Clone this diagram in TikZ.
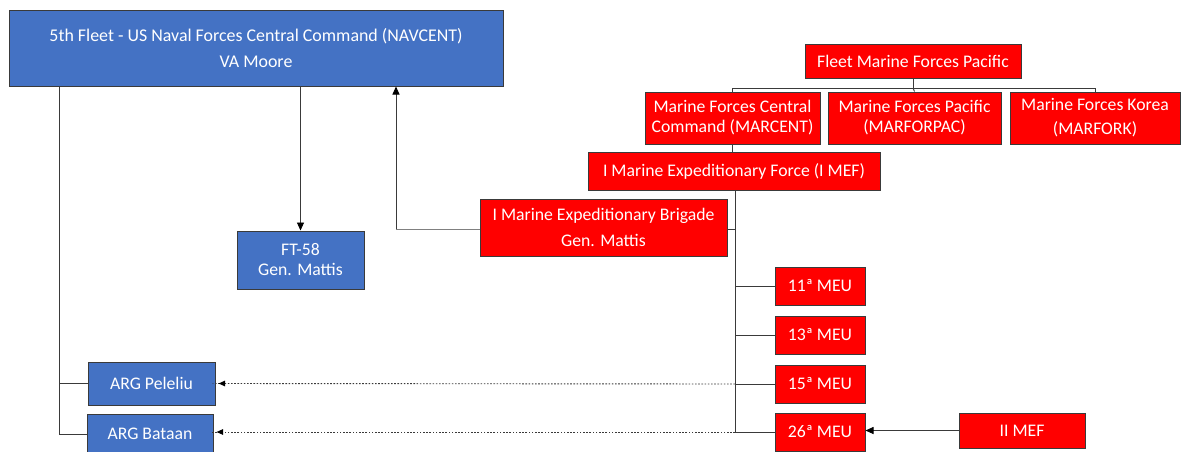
\documentclass[tikz,border=0pt]{standalone}
\usepackage{fontspec}
\setmainfont{Carlito}
\usetikzlibrary{arrows.meta}
\definecolor{navblue}{HTML}{4472C4}
\definecolor{mred}{HTML}{FF0000}
\definecolor{edge}{HTML}{3A3A3A}
\tikzset{
  bluebox/.style={draw=edge, line width=1pt, fill=navblue, text=white, align=center, inner sep=0pt, font=\fontsize{17.7}{20}\selectfont},
  redbox/.style={draw=edge, line width=1pt, fill=mred, text=white, align=center, inner sep=0pt, font=\fontsize{17.7}{20}\selectfont},
  link/.style={draw=edge, line width=0.9pt},
  dotlink/.style={draw=edge, line width=0.9pt, dash pattern=on 1.6pt off 1.6pt},
  tip/.style={-{Triangle[length=8pt,width=7pt,fill=black,color=black]}},
}
\begin{document}
\begin{tikzpicture}[x=1pt,y=-1pt]
\useasboundingbox (0,0) rectangle (1183,452);
% blue
\node[bluebox, minimum width=494pt, minimum height=75pt, font=\fontsize{17.9}{26}\selectfont] (nav) at (256,48.5) {5th Fleet - US Naval Forces Central Command (NAVCENT)\\VA Moore};
\node[bluebox, minimum width=127pt, minimum height=58pt] (ft) at (300.5,260) {FT-58\\Gen. Mattis};
\node[bluebox, minimum width=127pt, minimum height=43pt] (pel) at (151.5,383.5) {ARG Peleliu};
\node[bluebox, minimum width=126pt, minimum height=40pt] (bat) at (150,434) {ARG Bataan};
% red
\node[redbox, minimum width=216pt, minimum height=33pt] (fmf) at (913,61.5) {Fleet Marine Forces Pacific};
\node[redbox, minimum width=175pt, minimum height=52pt] (mcent) at (732.5,118) {Marine Forces Central\\Command (MARCENT)};
\node[redbox, minimum width=173pt, minimum height=52pt] (mpac) at (914.5,118) {Marine Forces Pacific\\(MARFORPAC)};
\node[redbox, minimum width=170pt, minimum height=52pt, font=\fontsize{17.7}{24}\selectfont] (mkor) at (1095,118) {Marine Forces Korea\\(MARFORK)};
\node[redbox, minimum width=292pt, minimum height=38pt] (mef) at (734,171) {I Marine Expeditionary Force (I MEF)};
\node[redbox, minimum width=247pt, minimum height=57pt, font=\fontsize{17.7}{26}\selectfont] (meb) at (603.5,227.5) {I Marine Expeditionary Brigade\\Gen. Mattis};
\node[redbox, minimum width=90pt, minimum height=38pt] (m11) at (820,286) {11ª MEU};
\node[redbox, minimum width=90pt, minimum height=38pt] (m13) at (820,335) {13ª MEU};
\node[redbox, minimum width=90pt, minimum height=38pt] (m15) at (820,384) {15ª MEU};
\node[redbox, minimum width=90pt, minimum height=38pt] (m26) at (820,432) {26ª MEU};
\node[redbox, minimum width=126pt, minimum height=35pt] (iimef) at (1022,430.5) {II MEF};
% coordinates
\coordinate (bus) at (913,88);
\coordinate (ltop) at (59,86);
\coordinate (lpel) at (59,383.5);
\coordinate (lbat) at (59,434);
\coordinate (tr) at (735,190);
\coordinate (tmeb) at (735,229);
\coordinate (t11) at (735,286);
\coordinate (t13) at (735,335);
\coordinate (t15) at (735,384);
\coordinate (t26) at (735,432);
\coordinate (bend) at (396,229);
% FMF tree
\draw[link] (fmf.south) -- (bus);
\draw[link] (mcent.north) -- (732.5,88) -- (1095,88) -- (mkor.north);
\draw[link] (bus) -- (mpac.north);
\draw[link] (mcent.south) -- (732.5,152);
% trunk
\draw[link] (tr) -- (t26);
\draw[link] (meb.east |- tmeb) -- (tmeb);
\draw[link] (t11) -- (m11.west);
\draw[link] (t13) -- (m13.west);
\draw[link] (t15) -- (m15.west);
\draw[link] (t26) -- (m26.west);
\draw[link, tip] (iimef.west) -- (iimef.west -| m26.east);
% MEB to NAVCENT
\draw[draw=gray, line width=0.9pt] (meb.west |- bend) -- (bend);
\draw[link, tip] (bend) -- (bend |- nav.south);
% NAVCENT to FT-58
\draw[link, tip] (nav.south -| ft.north) -- (ft.north);
% left trunk
\draw[link] (ltop) -- (lbat) -- (bat.west);
\draw[link] (lpel) -- (pel.west);
% dotted
\draw[dotlink] (t15) -- ([xshift=-3pt]pel.east);
\draw[dotlink] (t26) -- ([xshift=-3pt]bat.east |- t26);
\draw[link, tip, draw opacity=0] ([xshift=6pt]pel.east) -- ([xshift=2pt]pel.east);
\draw[link, tip, draw opacity=0] ([xshift=6pt]bat.east |- t26) -- ([xshift=2pt]bat.east |- t26);
\end{tikzpicture}
\end{document}
